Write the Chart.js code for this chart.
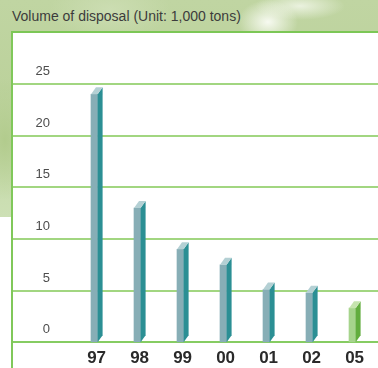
<!DOCTYPE html>
<html>
<head>
<meta charset="utf-8">
<script src="https://cdn.jsdelivr.net/npm/chart.js@4/dist/chart.umd.min.js"></script>
<style>
  html, body { margin: 0; padding: 0; background: #ffffff; }
  #wrap { position: relative; width: 378px; height: 368px; overflow: hidden; background: #ffffff; }
  #bg { position: absolute; left: 0; top: 0; width: 378px; height: 217px;
    background:
      radial-gradient(ellipse 30px 22px at 268px 22px, rgba(250,252,245,0.95), rgba(250,252,245,0) 100%),
      radial-gradient(ellipse 45px 14px at 300px 6px, rgba(245,249,238,0.8), rgba(245,249,238,0) 100%),
      radial-gradient(ellipse 60px 30px at 110px 10px, rgba(205,222,180,0.9), rgba(205,222,180,0) 100%),
      radial-gradient(ellipse 30px 60px at 5px 140px, rgba(176,202,138,0.9), rgba(176,202,138,0) 100%),
      linear-gradient(180deg, #c0d5a2 0%, #bcd29c 40%, #cde0b5 100%);
  }
  #panel { position: absolute; left: 11px; top: 31px; right: -10px; bottom: -10px;
    background: #ffffff; border-left: 2px solid #80c85a; border-top: 2px solid #7cc756; }
  #title { position: absolute; left: 12px; top: 8px; font: 14px "Liberation Sans", Arial, sans-serif;
    line-height: 16px; color: #3c3c3c; white-space: nowrap; }
  canvas { position: absolute; left: 0; top: 0; }
</style>
</head>
<body>
<div id="wrap">
  <div id="bg"></div>
  <div id="panel"></div>
  <div id="title">Volume of disposal (Unit: 1,000 tons)</div>
  <canvas id="c" width="378" height="368"></canvas>
</div>
<script>
const categories = ['97', '98', '99', '00', '01', '02', '05'];
const values = [24.0, 13.0, 9.0, 7.5, 5.1, 4.8, 3.3];
const yTicks = [0, 5, 10, 15, 20, 25];
const isTarget = [false, false, false, false, false, false, true];

const frontColors = isTarget.map(t => t ? '#a6d48c' : '#87aeb6');
const sideColors = isTarget.map(t => t ? '#62ad3e' : '#2b8f94');
const capColors = isTarget.map(t => t ? '#c6e4ae' : '#b4d0d4');

const gridPlugin = {
  id: 'fullGrid',
  beforeDatasetsDraw(chart) {
    const ctx = chart.ctx;
    const ys = chart.scales.y;
    ctx.save();
    yTicks.forEach(v => {
      const py = Math.round(ys.getPixelForValue(v));
      ctx.strokeStyle = v === 0 ? '#86cc62' : '#a2d681';
      ctx.lineWidth = 2;
      ctx.beginPath();
      ctx.moveTo(13, py);
      ctx.lineTo(378, py);
      ctx.stroke();
    });
    ctx.restore();
  }
};

const bar3d = {
  id: 'bar3d',
  afterDatasetsDraw(chart) {
    const ctx = chart.ctx;
    const meta = chart.getDatasetMeta(0);
    const dx = 5, dy = 7;
    ctx.save();
    meta.data.forEach((bar, i) => {
      const p = bar.getProps(['x', 'y', 'base', 'width'], true);
      const l = p.x - p.width / 2, r = p.x + p.width / 2;
      ctx.fillStyle = sideColors[i];
      ctx.beginPath();
      ctx.moveTo(r, p.y);
      ctx.lineTo(r + dx, p.y - dy);
      ctx.lineTo(r + dx, p.base - dy);
      ctx.lineTo(r, p.base);
      ctx.closePath();
      ctx.fill();
      ctx.fillStyle = capColors[i];
      ctx.beginPath();
      ctx.moveTo(l, p.y);
      ctx.lineTo(l + dx, p.y - dy);
      ctx.lineTo(r + dx, p.y - dy);
      ctx.lineTo(r, p.y);
      ctx.closePath();
      ctx.fill();
    });
    ctx.restore();
  }
};

new Chart(document.getElementById('c'), {
  type: 'bar',
  data: {
    labels: categories,
    datasets: [{
      data: values,
      backgroundColor: frontColors,
      borderWidth: 0,
      barThickness: 6.6
    }]
  },
  options: {
    responsive: false,
    animation: false,
    events: [],
    layout: { padding: { left: 0, right: 4.2, top: 84, bottom: 0 } },
    plugins: { legend: { display: false }, tooltip: { enabled: false }, title: { display: false } },
    scales: {
      x: {
        grid: { display: false, drawTicks: true, tickLength: 5.5, tickColor: 'rgba(0,0,0,0)' },
        border: { display: false },
        ticks: {
          color: '#2a2a2a',
          font: { family: '"Liberation Sans Narrow", "Liberation Sans", Arial, sans-serif', size: 17, weight: 'bold', lineHeight: 1.2 },
          padding: 0,
          labelOffset: 2.3,
          maxRotation: 0,
          autoSkip: false
        },
        afterFit(s) { s.height = 25.7; }
      },
      y: {
        min: 0,
        max: 25,
        afterBuildTicks(s) { s.ticks = yTicks.map(v => ({ value: v })); },
        grid: { display: false, drawTicks: true, tickLength: 22.8, tickColor: 'rgba(0,0,0,0)' },
        border: { display: false },
        ticks: {
          color: '#4d4d4d',
          font: { family: '"Liberation Sans", Arial, sans-serif', size: 13 },
          padding: 0,
          labelOffset: -12.7
        },
        afterFit(s) { s.width = 72.8; }
      }
    }
  },
  plugins: [gridPlugin, bar3d]
});
</script>
</body>
</html>
